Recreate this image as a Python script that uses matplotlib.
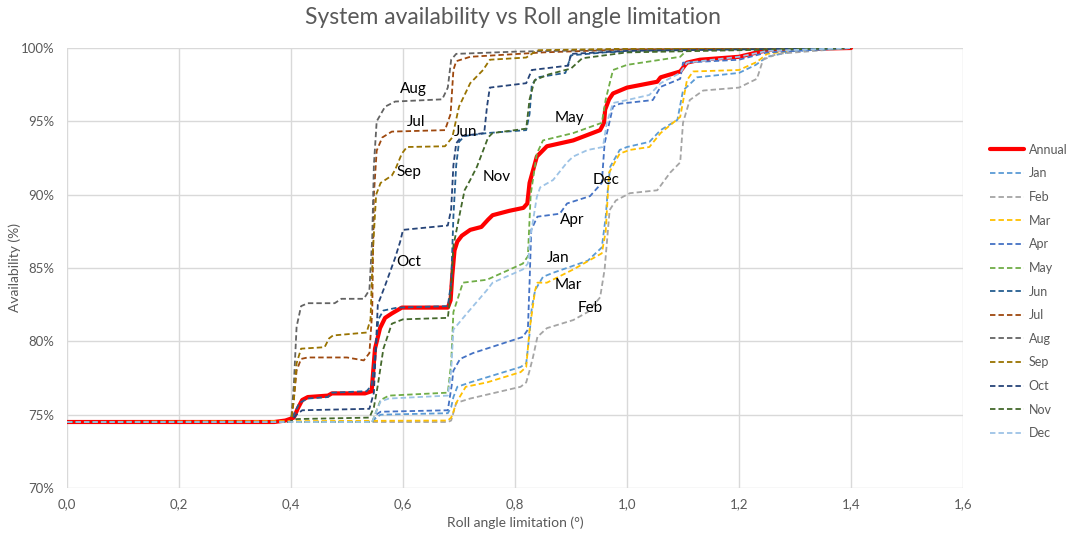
import numpy as np
import matplotlib
matplotlib.use('Agg')
import matplotlib.pyplot as plt
from matplotlib.ticker import FuncFormatter

plt.rcParams['font.family'] = ['Lato', 'DejaVu Sans']

# Curves: (roll angle limitation, availability %)
annual = [(0, 74.5), (0.37, 74.5), (0.39, 74.6), (0.405, 74.8), (0.4125, 75.45), (0.42, 76.0), (0.43, 76.2),
          (0.466, 76.3), (0.473, 76.45), (0.532, 76.45), (0.544, 76.6), (0.55, 79.5), (0.559, 80.9), (0.568, 81.6),
          (0.58, 81.9), (0.598, 82.3), (0.68, 82.3), (0.685, 82.8), (0.688, 84.5), (0.692, 86.2), (0.697, 86.8),
          (0.705, 87.2), (0.72, 87.6), (0.74, 87.8), (0.752, 88.3), (0.76, 88.6), (0.79, 88.9), (0.815, 89.1),
          (0.822, 89.4), (0.826, 90.8), (0.839, 92.6), (0.857, 93.3), (0.904, 93.7), (0.952, 94.4), (0.959, 94.9),
          (0.961, 95.8), (0.968, 96.5), (0.975, 96.9), (1.0, 97.3), (1.054, 97.7), (1.06, 98.0), (1.095, 98.4),
          (1.107, 99.0), (1.13, 99.2), (1.20, 99.4), (1.238, 99.75), (1.26, 99.9), (1.4, 100)]

jan = [(0, 74.5), (0.545, 74.5), (0.552, 74.8), (0.56, 75.0), (0.68, 75.1), (0.686, 75.5), (0.69, 76.2),
       (0.697, 76.9), (0.72, 77.2), (0.81, 78.25), (0.82, 78.5), (0.826, 80.5), (0.83, 82.3), (0.836, 83.5),
       (0.85, 84.4), (0.87, 84.7), (0.90, 85.1), (0.93, 85.5), (0.955, 86.4), (0.962, 88.5), (0.966, 90.5),
       (0.97, 91.9), (0.987, 93.05), (1.0, 93.25), (1.04, 93.6), (1.06, 94.4), (1.09, 95.1), (1.10, 97.1),
       (1.125, 98.0), (1.2, 98.3), (1.23, 98.85), (1.25, 99.4), (1.3, 99.8), (1.4, 100)]

feb = [(0, 74.5), (0.68, 74.5), (0.686, 74.6), (0.695, 75.8), (0.72, 76.1), (0.81, 76.9), (0.82, 77.2),
       (0.826, 78.0), (0.832, 78.9), (0.84, 80.3), (0.857, 80.9), (0.904, 81.45), (0.93, 82.0), (0.952, 83.0),
       (0.96, 84.9), (0.969, 88.95), (0.98, 89.6), (1.005, 90.1), (1.054, 90.3), (1.077, 91.5), (1.095, 92.2),
       (1.1, 94.9), (1.112, 96.45), (1.136, 97.1), (1.2, 97.3), (1.232, 97.9), (1.243, 99.2), (1.268, 99.6),
       (1.4, 100)]

mar = [(0, 74.5), (0.68, 74.6), (0.686, 74.8), (0.69, 75.2), (0.695, 75.8), (0.712, 76.9), (0.75, 77.2),
       (0.81, 77.9), (0.82, 78.25), (0.826, 80.8), (0.836, 83.5), (0.84, 84.0), (0.857, 84.0), (0.904, 84.9),
       (0.955, 86.0), (0.962, 87.5), (0.968, 91.5), (0.987, 92.8), (1.005, 93.05), (1.04, 93.25), (1.06, 94.2),
       (1.095, 95.3), (1.107, 97.8), (1.118, 98.4), (1.2, 98.5), (1.232, 99.05), (1.25, 99.6), (1.3, 99.85),
       (1.4, 100)]

apr = [(0, 74.5), (0.545, 74.5), (0.552, 75.0), (0.56, 75.2), (0.68, 75.3), (0.687, 77.0), (0.69, 78.0),
       (0.702, 78.8), (0.725, 79.2), (0.814, 80.3), (0.823, 80.8), (0.826, 84.0), (0.829, 87.6), (0.84, 88.5),
       (0.88, 88.7), (0.893, 89.4), (0.934, 89.9), (0.955, 90.8), (0.96, 93.5), (0.975, 96.0), (0.987, 96.2),
       (1.046, 96.45), (1.06, 97.35), (1.095, 97.9), (1.1, 99.0), (1.2, 99.2), (1.25, 99.7), (1.4, 100)]

may = [(0, 74.5), (0.545, 74.5), (0.552, 75.2), (0.56, 76.0), (0.575, 76.3), (0.68, 76.5), (0.686, 78.5),
       (0.69, 82.0), (0.707, 84.0), (0.75, 84.2), (0.814, 85.3), (0.823, 85.8), (0.828, 90.0), (0.839, 92.8),
       (0.85, 93.7), (0.904, 94.2), (0.955, 94.9), (0.962, 96.5), (0.975, 98.5), (1.0, 98.85), (1.095, 99.4),
       (1.107, 99.85), (1.4, 100)]

jun = [(0, 74.5), (0.40, 74.5), (0.405, 75.0), (0.415, 75.8), (0.43, 76.1), (0.466, 76.2), (0.473, 76.5),
       (0.535, 76.6), (0.544, 77.0), (0.55, 79.0), (0.556, 81.5), (0.565, 82.1), (0.59, 82.3), (0.68, 82.4),
       (0.686, 84.0), (0.69, 88.5), (0.695, 92.0), (0.70, 93.6), (0.71, 94.0), (0.75, 94.2), (0.82, 94.4),
       (0.826, 95.5), (0.83, 97.5), (0.84, 98.0), (0.89, 98.3), (0.9, 99.5), (0.96, 99.7), (1.1, 99.9),
       (1.4, 100)]

jul = [(0, 74.5), (0.40, 74.5), (0.405, 76.0), (0.41, 78.0), (0.418, 78.8), (0.43, 78.9), (0.50, 78.9),
       (0.53, 78.7), (0.54, 79.2), (0.545, 82.0), (0.548, 90.0), (0.553, 93.0), (0.563, 93.9), (0.58, 94.3),
       (0.675, 94.4), (0.685, 95.5), (0.69, 98.5), (0.695, 99.1), (0.72, 99.4), (0.85, 99.7), (1.0, 99.9),
       (1.4, 100)]

aug = [(0, 74.5), (0.40, 74.5), (0.405, 77.0), (0.41, 81.0), (0.418, 82.4), (0.43, 82.6), (0.478, 82.6),
       (0.49, 82.9), (0.53, 82.9), (0.54, 83.5), (0.545, 87.0), (0.548, 92.0), (0.553, 95.0), (0.568, 96.0),
       (0.586, 96.35), (0.67, 96.5), (0.68, 97.3), (0.686, 99.2), (0.695, 99.6), (0.8, 99.75), (1.0, 99.9),
       (1.4, 100)]

sep = [(0, 74.5), (0.40, 74.5), (0.405, 76.0), (0.41, 78.5), (0.418, 79.5), (0.46, 79.6), (0.468, 80.2),
       (0.475, 80.4), (0.535, 80.6), (0.542, 81.5), (0.546, 86.0), (0.552, 90.0), (0.56, 90.8), (0.58, 91.3),
       (0.586, 91.7), (0.598, 92.8), (0.607, 93.25), (0.675, 93.3), (0.688, 93.9), (0.70, 96.0), (0.72, 97.6),
       (0.743, 98.5), (0.755, 99.2), (0.82, 99.35), (0.84, 99.85), (1.0, 99.95), (1.4, 100)]

oct_ = [(0, 74.5), (0.40, 74.5), (0.41, 75.0), (0.42, 75.3), (0.54, 75.4), (0.548, 76.5), (0.555, 82.5),
        (0.568, 83.8), (0.586, 85.7), (0.595, 86.8), (0.6, 87.6), (0.68, 87.9), (0.686, 89.0), (0.69, 92.0),
        (0.695, 93.5), (0.705, 94.0), (0.745, 94.2), (0.75, 96.0), (0.755, 97.3), (0.82, 97.6), (0.83, 98.5),
        (0.895, 98.8), (0.90, 99.6), (1.0, 99.8), (1.4, 100)]

nov = [(0, 74.5), (0.40, 74.5), (0.41, 74.7), (0.54, 74.8), (0.548, 75.5), (0.555, 77.0), (0.565, 79.5),
       (0.58, 81.2), (0.6, 81.5), (0.68, 81.6), (0.686, 83.5), (0.69, 86.5), (0.703, 89.0), (0.71, 90.3),
       (0.72, 91.0), (0.732, 91.9), (0.743, 93.0), (0.752, 93.9), (0.76, 94.2), (0.82, 94.5), (0.826, 96.5),
       (0.835, 97.8), (0.86, 98.2), (0.9, 98.6), (0.92, 99.3), (1.0, 99.7), (1.4, 100)]

dec = [(0, 74.5), (0.545, 74.5), (0.552, 75.2), (0.56, 75.9), (0.575, 76.1), (0.68, 76.3), (0.686, 78.0),
       (0.69, 80.8), (0.714, 81.9), (0.75, 83.5), (0.76, 84.0), (0.814, 84.9), (0.823, 85.3), (0.827, 87.0),
       (0.839, 89.85), (0.845, 90.5), (0.868, 91.0), (0.893, 92.2), (0.904, 92.6), (0.93, 93.05), (0.957, 93.25),
       (0.964, 94.9), (0.975, 96.25), (1.0, 96.45), (1.04, 96.8), (1.06, 97.6), (1.095, 98.3), (1.107, 99.0),
       (1.2, 99.4), (1.25, 99.8), (1.4, 100)]

month_names = ['Jan', 'Feb', 'Mar', 'Apr', 'May', 'Jun', 'Jul', 'Aug', 'Sep', 'Oct', 'Nov', 'Dec']
month_curves = [jan, feb, mar, apr, may, jun, jul, aug, sep, oct_, nov, dec]
month_colors = ['#5B9BD5', '#A5A5A5', '#FFC000', '#4472C4', '#70AD47', '#255E91',
                '#9E480E', '#636363', '#997300', '#264478', '#43682B', '#9DC3E6']

# In-chart month labels
label_names = ['Aug', 'Jul', 'Jun', 'Sep', 'Nov', 'May', 'Dec', 'Apr', 'Oct', 'Jan', 'Mar', 'Feb']
label_x = [0.618, 0.623, 0.711, 0.611, 0.768, 0.898, 0.9625, 0.902, 0.611, 0.877, 0.895, 0.934]
label_y = [97.2, 94.95, 94.3, 91.55, 91.2, 95.2, 91.0, 88.3, 85.4, 85.7, 83.85, 82.3]

x_ticks = np.arange(0, 1.61, 0.2)
y_ticks = np.arange(70, 101, 5)

# Initialize figure
W, H = 1077, 536
fig = plt.figure(figsize=(W / 100, H / 100), dpi=100)
ax = fig.add_axes([67 / W, 1 - 488 / H, (963 - 67) / W, 440 / H])

# Plot annual curve and monthly curves
ax_x, ax_y = np.array(annual).T
ax.plot(ax_x, ax_y, color='#FF0000', lw=3.0, label='Annual', zorder=3, solid_capstyle='round')
for name, curve, color in zip(month_names, month_curves, month_colors):
    cx, cy = np.array(curve).T
    ax.plot(cx, cy, color=color, lw=1.3, dashes=(3, 1.7), label=name, zorder=4)

# Month annotations
for name, lx, ly in zip(label_names, label_x, label_y):
    ax.text(lx, ly, name, ha='center', va='center', fontsize=11, color='black', zorder=5)

# Axes styling
ax.set_xlim(0, 1.6)
ax.set_ylim(70, 100)
ax.set_xticks(x_ticks)
ax.set_yticks(y_ticks)
ax.xaxis.set_major_formatter(FuncFormatter(lambda v, p: f'{v:.1f}'.replace('.', ',')))
ax.yaxis.set_major_formatter(FuncFormatter(lambda v, p: f'{v:.0f}%'))
ax.tick_params(length=0, labelsize=9.5, labelcolor='#595959')
ax.tick_params(axis='y', pad=9)
ax.tick_params(axis='x', pad=7)
for s in ax.spines.values():
    s.set_visible(False)
ax.grid(True, color='#D9D9D9', lw=1.0, zorder=0)
ax.set_axisbelow(True)

# Titles
fig.text(513 / W, 1 - 18 / H, 'System availability vs Roll angle limitation', ha='center', va='center',
         fontsize=16.5, color='#595959')
fig.text(515 / W, 1 - 523 / H, 'Roll angle limitation (°)', ha='center', va='center', fontsize=10,
         color='#595959')
fig.text(15 / W, 1 - 268 / H, 'Availability (%)', ha='center', va='center', rotation=90, fontsize=10,
         color='#595959')

# Legend
fig.legend(loc='center left', bbox_to_anchor=(990 / W, 1 - 291.5 / H), frameon=False, fontsize=9,
           handlelength=2.7, handletextpad=0.4, labelspacing=0.93, borderpad=0, borderaxespad=0,
           labelcolor='#595959')

fig.savefig('out.png', dpi=100)
